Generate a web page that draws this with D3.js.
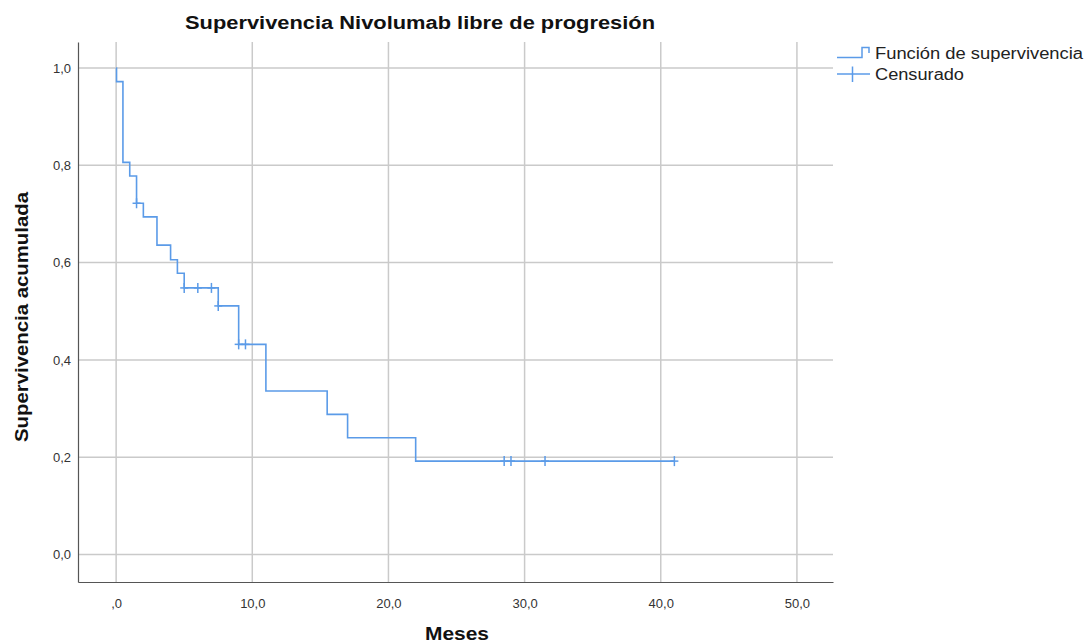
<!DOCTYPE html>
<html>
<head>
<meta charset="utf-8">
<script src="https://cdn.jsdelivr.net/npm/d3@7"></script>
<style>
  html, body { margin: 0; padding: 0; background: #fff; }
  svg { display: block; font-family: "Liberation Sans", Arial, sans-serif; }
</style>
</head>
<body>
<svg id="chart" width="1088" height="644"></svg>
<script>
// Kaplan-Meier estimate: event times (months) and survival after each event
const eventTimes = [0.03, 0.5, 1.0, 1.5, 2.0, 3.0, 4.0, 4.5, 5.0, 7.5, 9.0, 11.0, 15.5, 17.0, 22.0];
const survival   = [0.972, 0.806, 0.778, 0.722, 0.694, 0.636, 0.606, 0.578, 0.548, 0.511, 0.432, 0.336, 0.288, 0.240, 0.192];
const lastFollowUp = 41.0;

// Censored observations: time (months) and survival level at that time
const censorTimes  = [1.5, 5.0, 6.0, 7.0, 7.5, 9.0, 9.5, 28.5, 29.0, 31.5, 41.0];
const censorLevels = [0.722, 0.548, 0.548, 0.548, 0.511, 0.432, 0.432, 0.192, 0.192, 0.192, 0.192];

// Axis ticks and labels
const xTicks = [0, 10, 20, 30, 40, 50];
const xTickLabels = [",0", "10,0", "20,0", "30,0", "40,0", "50,0"];
const yTicks = [0, 0.2, 0.4, 0.6, 0.8, 1.0];
const yTickLabels = ["0,0", "0,2", "0,4", "0,6", "0,8", "1,0"];

const title = "Supervivencia Nivolumab libre de progresión";
const xTitle = "Meses";
const yTitle = "Supervivencia acumulada";
const legendLabels = ["Función de supervivencia", "Censurado"];

const svg = d3.select("#chart");
const plot = { left: 78, right: 833, top: 42, bottom: 582 };
const lineColor = "#5b9be8";

const x = d3.scaleLinear().domain([-2.8, 52.65]).range([plot.left, plot.right]);
const y = d3.scaleLinear().domain([-0.0565, 1.0535]).range([plot.bottom, plot.top]);

// Grid
const grid = svg.append("g").attr("stroke", "#cacaca").attr("stroke-width", 1.5);
grid.selectAll("line.gx").data(xTicks).join("line")
  .attr("x1", d => x(d)).attr("x2", d => x(d))
  .attr("y1", plot.top).attr("y2", plot.bottom);
grid.selectAll("line.gy").data(yTicks).join("line")
  .attr("x1", plot.left).attr("x2", plot.right)
  .attr("y1", d => y(d)).attr("y2", d => y(d));

// Axes
const xAxis = d3.axisBottom(x).tickValues(xTicks).tickSize(0).tickPadding(17)
  .tickFormat((d, i) => xTickLabels[i]);
const yAxis = d3.axisLeft(y).tickValues(yTicks).tickSize(0).tickPadding(7)
  .tickFormat((d, i) => yTickLabels[i]);

const gx = svg.append("g").attr("transform", `translate(0,${plot.bottom})`).call(xAxis);
const gy = svg.append("g").attr("transform", `translate(${plot.left},0)`).call(yAxis);
[gx, gy].forEach(g => {
  g.select(".domain").attr("stroke", "#555").attr("stroke-width", 1.2);
  g.selectAll("text").attr("fill", "#333").attr("font-size", 13)
    .attr("font-family", "'Liberation Sans', Arial, sans-serif");
});

// Survival step curve
const pts = [[0, 1.0]].concat(eventTimes.map((t, i) => [t, survival[i]]));
pts.push([lastFollowUp, survival[survival.length - 1]]);
const line = d3.line().x(d => x(d[0])).y(d => y(d[1])).curve(d3.curveStepAfter);
svg.append("path").datum(pts).attr("d", line)
  .attr("fill", "none").attr("stroke", lineColor).attr("stroke-width", 1.6);

// Censor marks
const cg = svg.append("g").attr("stroke", lineColor).attr("stroke-width", 1.5);
censorTimes.forEach((t, i) => {
  const cx = x(t), cy = y(censorLevels[i]);
  cg.append("line").attr("x1", cx).attr("x2", cx).attr("y1", cy - 5).attr("y2", cy + 5);
  cg.append("line").attr("x1", cx - 4).attr("x2", cx + 4).attr("y1", cy).attr("y2", cy);
});

// Titles
svg.append("text").attr("x", 420).attr("y", 29).attr("text-anchor", "middle")
  .attr("font-weight", "bold").attr("font-size", 18).attr("fill", "#111")
  .attr("textLength", 470).attr("lengthAdjust", "spacingAndGlyphs").text(title);
svg.append("text").attr("x", 457).attr("y", 640).attr("text-anchor", "middle")
  .attr("font-weight", "bold").attr("font-size", 18).attr("fill", "#111")
  .attr("textLength", 64).attr("lengthAdjust", "spacingAndGlyphs").text(xTitle);
svg.append("text").attr("transform", "translate(28,317) rotate(-90)")
  .attr("text-anchor", "middle").attr("font-weight", "bold").attr("font-size", 18)
  .attr("fill", "#111").attr("textLength", 250).attr("lengthAdjust", "spacingAndGlyphs")
  .text(yTitle);

// Legend
const lg = svg.append("g");
lg.append("path").attr("d", "M837,57.5 H862 V47.5 H869 V53")
  .attr("fill", "none").attr("stroke", lineColor).attr("stroke-width", 1.5);
lg.append("line").attr("x1", 837).attr("x2", 870).attr("y1", 74).attr("y2", 74)
  .attr("stroke", lineColor).attr("stroke-width", 1.5);
lg.append("line").attr("x1", 852.5).attr("x2", 852.5).attr("y1", 66.5).attr("y2", 82)
  .attr("stroke", lineColor).attr("stroke-width", 1.5);
lg.selectAll("text").data(legendLabels).join("text")
  .attr("x", 875).attr("y", (d, i) => 58.5 + i * 21)
  .attr("font-size", 16).attr("fill", "#222")
  .attr("textLength", (d, i) => i === 0 ? 208 : 89)
  .attr("lengthAdjust", "spacingAndGlyphs")
  .text(d => d);
</script>
</body>
</html>
